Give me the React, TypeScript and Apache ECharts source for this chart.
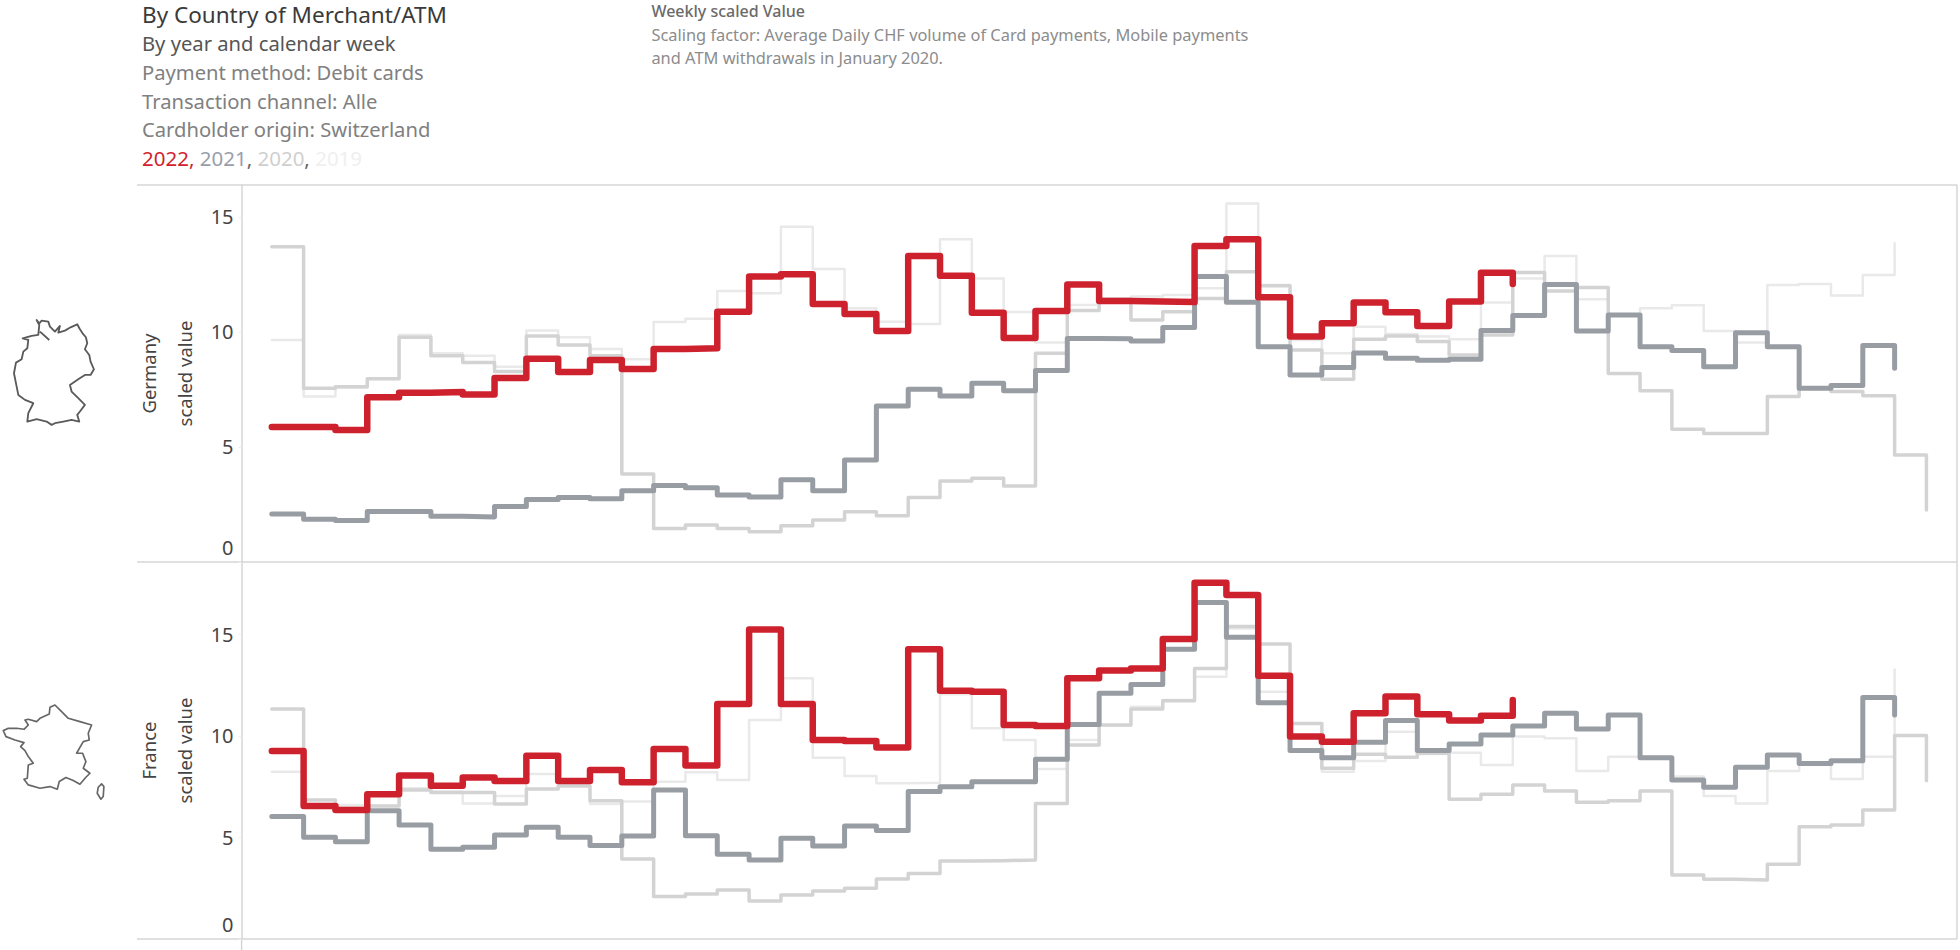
import React, { useEffect, useRef } from "react";
import * as echarts from "echarts";

const germany2022 = [5.87,5.87,5.74,7.16,7.36,7.39,7.28,8.0,8.84,8.26,8.78,8.39,9.26,9.29,10.88,12.41,12.51,11.22,10.78,10.04,13.3,12.45,10.84,9.74,10.91,12.06,11.35,11.32,11.3,13.74,14.03,11.51,9.8,10.38,11.28,10.86,10.26,11.32,12.58,12.09];
const germany2021 = [2.09,1.86,1.8,2.2,2.2,1.99,1.96,2.41,2.72,2.8,2.75,3.1,3.33,3.23,2.91,2.83,3.58,3.1,4.43,6.78,7.51,7.22,7.77,7.45,8.32,9.72,9.71,9.61,10.2,12.41,11.29,9.36,8.13,8.46,9.09,8.86,8.77,8.81,10.06,10.72,12.06,10.04,10.74,9.36,9.19,8.49,9.97,9.36,7.55,7.67,9.41,8.42];
const germany2020 = [13.7,7.55,7.62,7.97,9.77,8.97,8.67,8.28,9.83,9.43,8.97,3.83,1.46,1.61,1.46,1.32,1.58,1.83,2.19,2.01,2.8,3.52,3.64,3.3,9.07,10.93,11.42,10.52,10.88,11.46,12.62,12.01,9.22,7.94,9.68,9.83,9.59,9.0,9.87,12.59,11.78,11.93,8.2,7.45,5.77,5.59,5.59,7.19,7.55,7.41,7.23,4.65,2.26];
const germany2019 = [9.65,7.19,7.59,7.96,9.87,9.07,8.97,8.49,10.06,9.77,9.26,8.81,10.43,10.58,11.78,11.68,14.58,12.74,11.03,10.45,10.35,14.03,12.32,10.87,9.54,11.17,11.46,11.54,11.61,11.9,15.59,12.04,9.65,9.07,10.23,9.91,9.8,9.68,11.28,12.33,13.3,11.42,10.74,11.03,11.16,10.04,9.54,12.04,12.09,11.59,12.48,13.86];

const france2022 = [9.26,6.55,6.35,7.13,8.05,7.55,7.95,7.78,9.03,7.78,8.33,7.72,9.36,8.54,11.58,15.25,11.58,9.8,9.75,9.43,14.27,12.23,12.18,10.54,10.49,12.84,13.22,13.33,14.78,17.55,16.95,12.97,9.97,9.72,11.12,11.94,11.07,10.76,11.0,11.77];
const france2021 = [6.03,5.01,4.79,6.32,5.62,4.42,4.52,5.12,5.5,5.01,4.6,5.07,7.34,5.09,4.17,3.89,4.96,4.58,5.57,5.34,7.26,7.5,7.75,7.75,8.85,10.57,12.1,12.53,14.27,16.57,14.86,11.64,9.28,8.93,9.69,10.76,9.28,9.61,10.05,10.49,11.12,10.34,11.03,8.93,7.83,7.47,8.46,9.06,8.65,8.78,11.9,11.03];
const france2020 = [11.33,6.85,6.44,6.55,7.34,7.22,7.22,6.65,7.39,7.54,6.81,3.94,2.09,2.22,2.41,1.87,2.17,2.36,2.5,2.96,3.23,3.84,3.86,3.89,6.68,9.56,10.54,11.33,11.74,13.33,15.39,14.53,10.62,8.41,9.1,8.95,9.15,6.88,7.13,7.59,7.29,6.73,6.81,7.29,3.15,2.94,2.91,3.68,5.53,5.62,6.35,10.02,7.8];
const france2019 = [8.24,6.85,6.6,6.55,7.42,7.26,6.68,7.04,8.13,7.64,6.65,6.77,7.75,8.21,7.83,10.79,12.84,8.93,8.03,7.67,7.7,12.05,10.38,9.8,8.37,9.8,10.51,11.44,11.77,12.92,15.3,12.18,10.62,8.24,8.77,10.21,9.11,9.18,8.57,9.97,9.89,8.28,8.98,8.98,8.0,7.04,6.68,8.28,8.65,7.88,8.98,13.28];

const germanyTicks = [0, 5, 10, 15];
const franceTicks = [0, 5, 10, 15];
const years = ["2019", "2020", "2021", "2022"];

const headerLines = [
  "By Country of Merchant/ATM",
  "By year and calendar week",
  "Payment method: Debit cards",
  "Transaction channel: Alle",
  "Cardholder origin: Switzerland",
];
const noteLines = [
  "Weekly scaled Value",
  "Scaling factor: Average Daily CHF volume of Card payments, Mobile payments",
  "and ATM withdrawals in January 2020.",
];

const FONT = "'Noto Sans', sans-serif";
const GERMANY_PATH =
  "M110 90 L118 100 L125 92 L145 95 L150 110 L165 125 L180 108 L175 128 L195 122 L212 112 L232 103 L240 118 L248 130 L258 142 L262 160 L255 178 L268 195 L272 215 L282 238 L272 255 L255 255 L235 268 L210 285 L215 305 L235 325 L255 345 L240 365 L232 375 L238 395 L215 390 L190 395 L165 400 L155 405 L140 395 L110 388 L82 395 L85 370 L100 340 L75 330 L55 315 L50 290 L42 250 L48 218 L65 208 L70 185 L82 175 L85 150 L68 145 L95 138 L115 135 L118 105 Z M120 125 L148 150";
const FRANCE_PATH =
  "M165 45 L150 52 L148 72 L120 85 L110 95 L85 88 L75 90 L85 105 L72 118 L50 115 L25 115 L10 122 L18 140 L45 150 L72 158 L62 170 L75 182 L85 200 L100 220 L85 225 L82 265 L72 268 L85 285 L120 295 L150 290 L172 298 L178 275 L198 263 L220 272 L240 283 L258 262 L270 250 L250 235 L258 215 L248 190 L230 190 L250 155 L268 150 L265 130 L275 105 L240 95 L205 85 L185 65 Z M305 282 L312 290 L310 320 L303 328 L292 310 L295 292 Z";

echarts.graphic.registerShape("germanyMap", echarts.graphic.extendPath(GERMANY_PATH, {}) as any);
echarts.graphic.registerShape("franceMap", echarts.graphic.extendPath(FRANCE_PATH, {}) as any);

const styles: Record<string, { color: string; width: number }> = {
  "2019": { color: "#e9e9e9", width: 2.5 },
  "2020": { color: "#d3d3d3", width: 3.5 },
  "2021": { color: "#989da4", width: 5 },
  "2022": { color: "#cd222e", width: 6.5 },
};

function makeSeries(values: number[][], axisIndex: number) {
  return values.map((vals, k) => ({
    type: "line",
    name: years[k],
    xAxisIndex: axisIndex,
    yAxisIndex: axisIndex,
    step: "end",
    showSymbol: false,
    symbol: "none",
    silent: true,
    data: vals.map((v, i) => [i, v]),
    lineStyle: { color: styles[years[k]].color, width: styles[years[k]].width, cap: "round", join: "round" },
    z: 2 + k,
  }));
}

function yAxis(gridIndex: number, name: string, max: number, ticks: number[]) {
  return {
    type: "value",
    gridIndex,
    min: 0,
    max,
    name,
    nameLocation: "middle",
    nameGap: 39,
    nameRotate: 90,
    nameMoveOverlap: false,
    nameTextStyle: { fontFamily: FONT, fontSize: 18.5, color: "#444", lineHeight: 36 },
    axisLine: { show: true, onZero: false, lineStyle: { color: "#d6d6d6", width: 1.5 } },
    axisTick: { show: true, length: 3, lineStyle: { color: "#eeeeee" }, customValues: ticks },
    splitLine: { show: false },
    axisLabel: {
      customValues: ticks,
      fontFamily: FONT,
      fontSize: 20,
      color: "#444",
      margin: 8,
      lineHeight: 30,
      verticalAlignMinLabel: "bottom",
    },
  };
}

function rule(x1: number, y1: number, x2: number, y2: number) {
  return { type: "line", shape: { x1, y1, x2, y2 }, style: { stroke: "#d6d6d6", lineWidth: 1.5 }, silent: true };
}

function text(t: string, x: number, y: number, size: number, color: string, weight: number | string = 400) {
  return {
    type: "text",
    x,
    y,
    silent: true,
    style: { text: t, x: 0, y: 0, fontFamily: FONT, fontSize: size, fill: color, fontWeight: weight, verticalAlign: "middle" },
  };
}

export default function App() {
  const ref = useRef<HTMLDivElement>(null);
  useEffect(() => {
    const chart = echarts.init(ref.current!, undefined, { renderer: "svg" });
    chart.setOption({
      animation: false,
      backgroundColor: "#ffffff",
      grid: [
        { left: 241.57, width: 1715.1, top: 185, height: 377, containLabel: false },
        { left: 241.57, width: 1715.1, top: 562, height: 377, containLabel: false },
      ],
      xAxis: [0, 1].map((g) => ({ type: "value", gridIndex: g, min: -0.95, max: 52.95, show: false })),
      yAxis: [
        yAxis(0, "Germany\nscaled value", 16.39, germanyTicks),
        yAxis(1, "France\nscaled value", 18.57, franceTicks),
      ],
      series: [
        ...makeSeries([germany2019, germany2020, germany2021, germany2022], 0),
        ...makeSeries([france2019, france2020, france2021, france2022], 1),
      ],
      graphic: [
        rule(137, 185, 1957, 185),
        rule(137, 562, 1957, 562),
        rule(137, 939, 1957, 939),
        rule(1957, 185, 1957, 939),
        rule(241.6, 939, 241.6, 950),
        text(headerLines[0], 142, 14, 22.5, "#3a3a3a"),
        text(headerLines[1], 142, 43, 20.2, "#555555"),
        text(headerLines[2], 142, 72, 20.2, "#808080"),
        text(headerLines[3], 142, 101, 20.2, "#808080"),
        text(headerLines[4], 142, 129, 20.2, "#808080"),
        {
          type: "text",
          x: 142,
          y: 158,
          silent: true,
          style: {
            text: "{a|2022,} {b|2021}{c|,} {d|2020}{c|,} {e|2019}",
            fontFamily: FONT,
            fontSize: 20.5,
            verticalAlign: "middle",
            rich: {
              a: { fill: "#d11f2e", fontFamily: FONT, fontSize: 20.5 },
              b: { fill: "#9a9eaa", fontFamily: FONT, fontSize: 20.5 },
              c: { fill: "#666666", fontFamily: FONT, fontSize: 20.5 },
              d: { fill: "#cfcfcf", fontFamily: FONT, fontSize: 20.5 },
              e: { fill: "#efefef", fontFamily: FONT, fontSize: 20.5 },
            },
          },
        },
        text(noteLines[0], 651.4, 11, 16, "#6a6a6a", 500),
        text(noteLines[1], 651.4, 34, 16.4, "#8c8c8c"),
        text(noteLines[2], 651.4, 57, 16.4, "#8c8c8c"),
        {
          type: "germanyMap",
          x: 0,
          y: 290,
          scaleX: 1 / 3,
          scaleY: 1 / 3,
          silent: true,
          style: { fill: "none", stroke: "#5a5a5a", lineWidth: 5.5, lineJoin: "round" },
        },
        {
          type: "franceMap",
          x: 0,
          y: 690,
          scaleX: 1 / 3,
          scaleY: 1 / 3,
          silent: true,
          style: { fill: "none", stroke: "#666666", lineWidth: 5, lineJoin: "round" },
        },
      ],
    });
    return () => chart.dispose();
  }, []);
  return <div ref={ref} style={{ position: "fixed", left: 0, top: 0, width: 1960, height: 950 }} />;
}
